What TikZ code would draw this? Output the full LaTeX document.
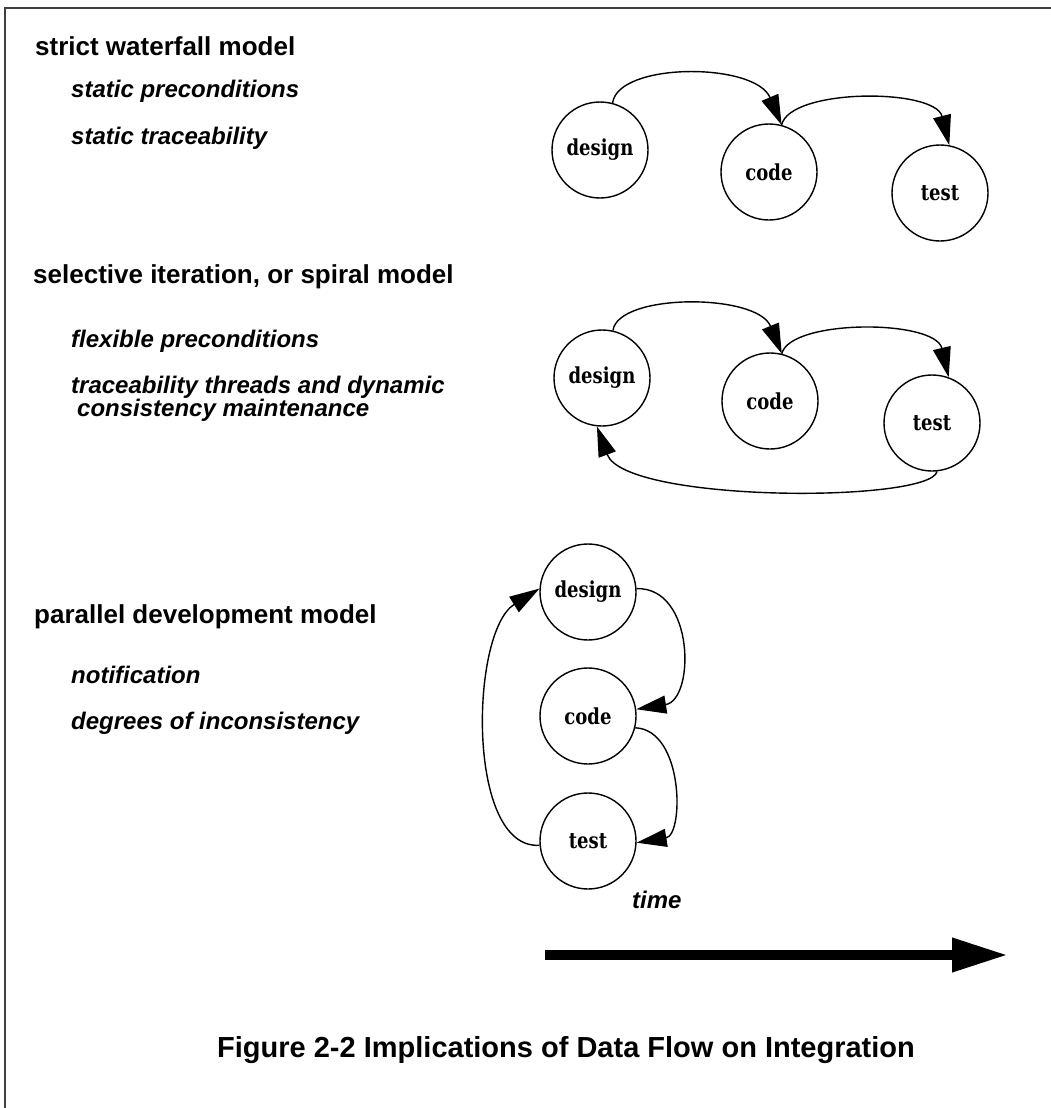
\documentclass[tikz,border=0pt]{standalone}
\usepackage{fontspec}
\setmainfont{Liberation Serif}
\setsansfont{Liberation Sans}
\newfontfamily\stagefont[FakeStretch=0.82]{DejaVu Serif}
\usetikzlibrary{arrows.meta}
\begin{document}
\begin{tikzpicture}[x=1pt,y=-1pt,
  stage/.style={circle,draw,line width=1.4pt,minimum size=96pt,inner sep=0pt,
    font=\stagefont\fontsize{22}{26}\selectfont\bfseries},
  flow/.style={line width=1.4pt,-{Triangle[length=30pt,width=18pt]}},
  heading/.style={anchor=base west,inner sep=0pt,
    font=\fontsize{26}{31}\selectfont\sffamily\bfseries},
  point/.style={anchor=base west,inner sep=0pt,
    font=\fontsize{24}{29}\selectfont\sffamily\bfseries\itshape},
  frame/.style={line width=2pt,black!75},
]
\useasboundingbox (0,0) rectangle (1051,1108);

% page frame (top and left edges)
\coordinate (fl) at (5,1108);
\coordinate (fc) at (5,8);
\coordinate (fr) at (1051,8);
\draw[frame] (fl) -- (fc) -- (fr);

% ---- strict waterfall model ----
\node[heading] (h1) at (35,56) {strict waterfall model};
\node[point] (p11) at (71,97) {static preconditions};
\node[point] (p12) at (71,144) {static traceability};

\node[stage] (d1) at (600,150) {design};
\node[stage] (c1) at (769,172) {code};
\node[stage] (t1) at (940,193) {test};
\draw[flow] (d1.75) .. controls (618,62) and (755,62) .. (c1.75);
\draw[flow] (c1.75) .. controls (790,88) and (935,88) .. (t1.79);

% ---- selective iteration ----
\node[heading] (h2) at (33,283) {selective iteration, or spiral model};
\node[point] (p21) at (71,347) {flexible preconditions};
\node[point] (p22) at (71,393) {traceability threads and dynamic};
\node[point] (p23) at (77,416) {consistency maintenance};

\node[stage] (d2) at (602,378) {design};
\node[stage] (c2) at (770,401) {code};
\node[stage] (t2) at (932,423) {test};
\draw[flow] (d2.77) .. controls (618,293) and (757,293) .. (c2.76);
\draw[flow] (c2.76) .. controls (790,319) and (935,319) .. (t2.70);
\draw[flow] (t2.276) .. controls (930,503) and (625,503) .. (d2.264);

% ---- parallel development ----
\node[heading] (h3) at (34,623) {parallel development model};
\node[point] (p31) at (71,683) {notification};
\node[point] (p32) at (71,729) {degrees of inconsistency};

\node[stage] (d3) at (588,592) {design};
\node[stage] (c3) at (588,716) {code};
\node[stage] (t3) at (588,841) {test};
\draw[flow] (d3.4) .. controls (695,587) and (695,700) .. (c3.8);
\draw[flow] (c3.346) .. controls (684,730) and (684,835) .. (t3.358);
\draw[flow] (t3.185) .. controls (466,850) and (470,632) .. (d3.176);

% ---- time axis ----
\node[point] (tm) at (632,908) {time};
\coordinate (ts) at (545,955);
\coordinate (te) at (1008,955);
\draw[line width=10pt,-{Triangle[length=56pt,width=32pt]}] (ts) -- (te);

% ---- caption ----
\node[heading,font=\fontsize{29}{35}\selectfont\sffamily\bfseries] (cap) at (217,1057)
  {Figure 2-2 Implications of Data Flow on Integration};
\end{tikzpicture}
\end{document}
